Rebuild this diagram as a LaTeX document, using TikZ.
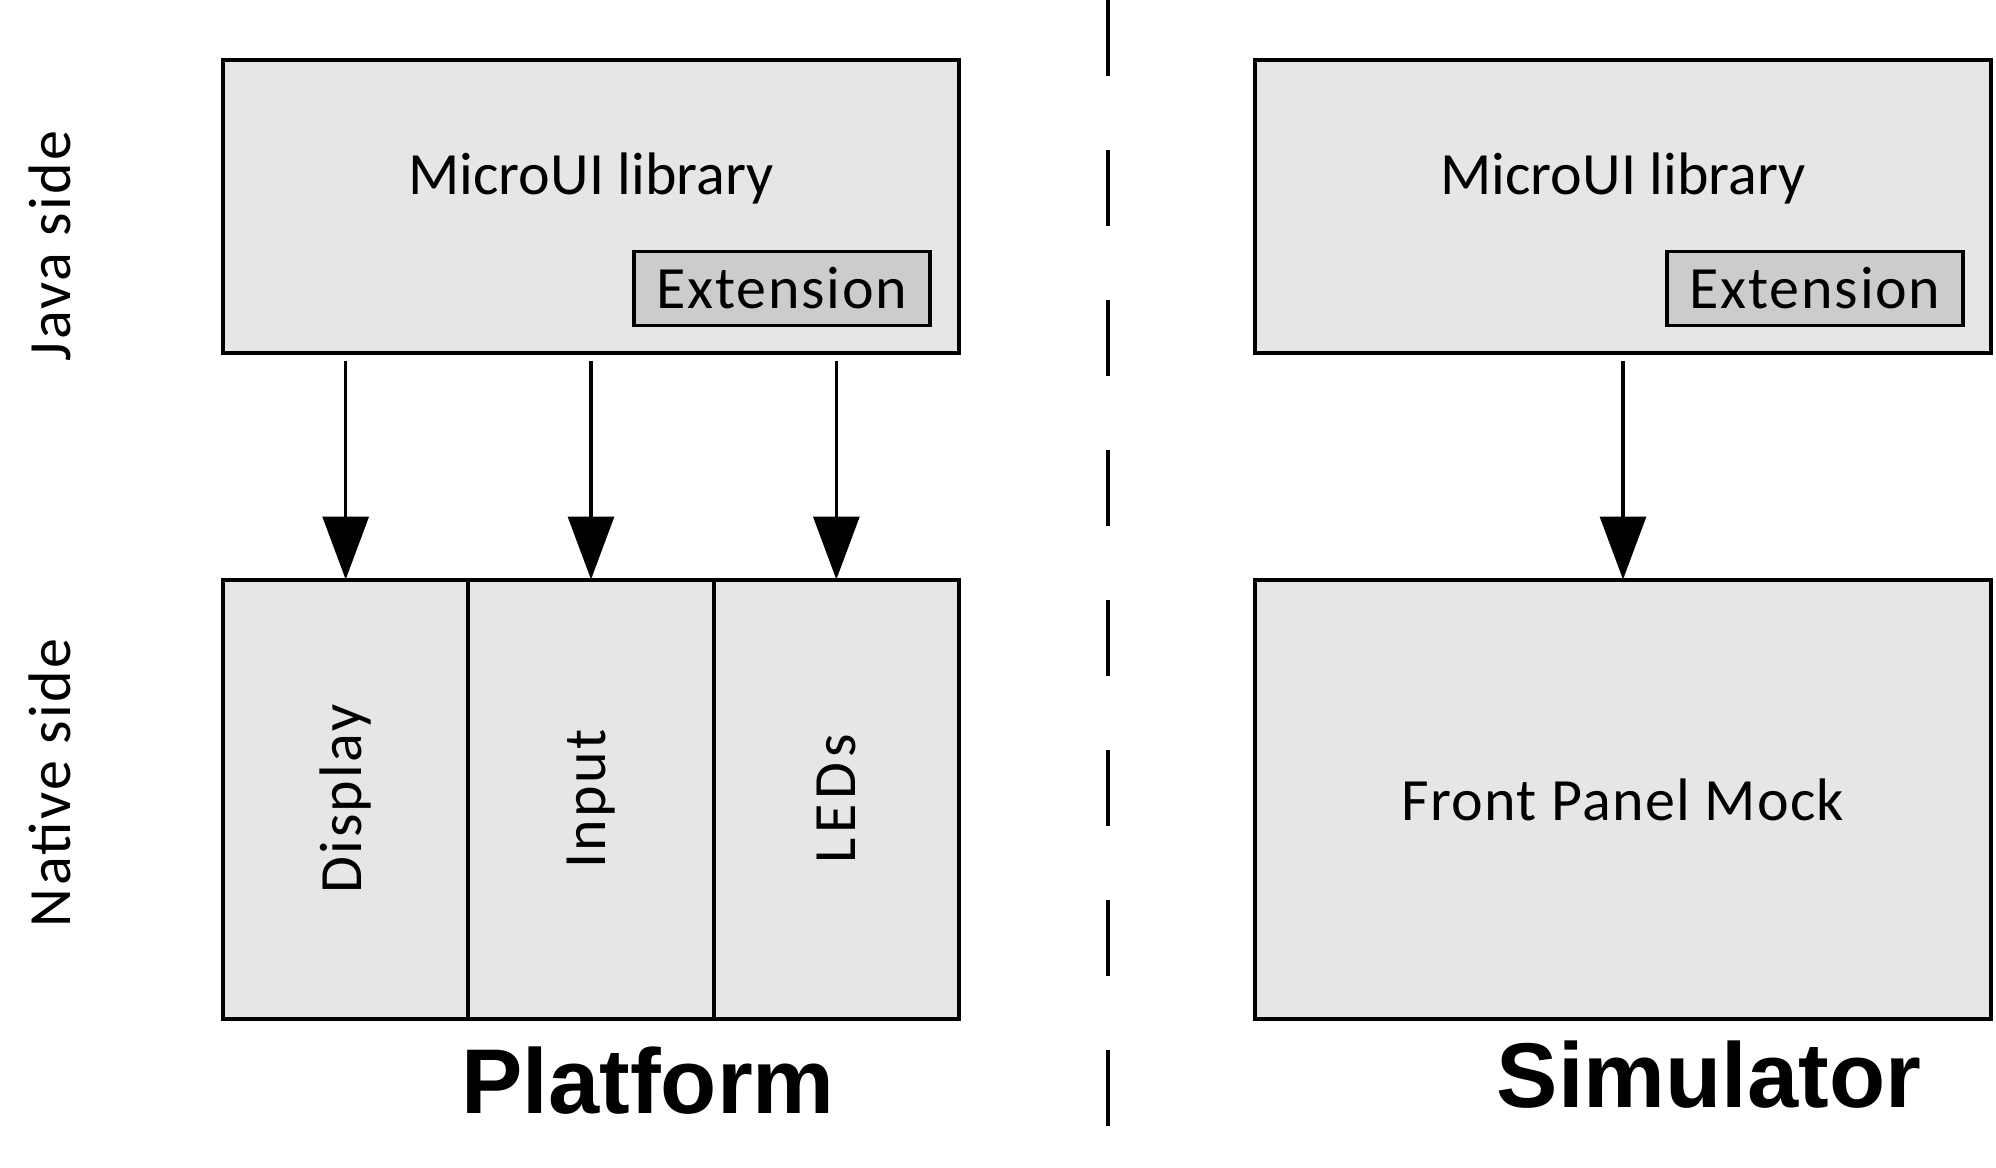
\documentclass[tikz,border=0pt]{standalone}
\usepackage{fontspec}
\setmainfont{Carlito}
\newfontfamily\titlefont{Liberation Sans}
\usetikzlibrary{positioning, arrows.meta}

\definecolor{boxgray}{HTML}{E6E6E6}
\definecolor{extgray}{HTML}{CCCCCC}

\begin{document}
\begin{tikzpicture}[x=0.5pt, y=-0.5pt,
    every node/.append style={inner sep=0pt, outer sep=0pt},
    txt/.style={font=\fontsize{30}{36}\selectfont},
    block/.style={draw, line width=2pt, fill=boxgray,
        minimum width=368pt, minimum height=146.5pt},
    ext/.style={txt, font=\fontsize{30}{36}\selectfont\addfontfeature{LetterSpace=3},
        draw, line width=1.7pt, fill=extgray,
        minimum width=148pt, minimum height=37pt},
    cell/.style={draw, line width=2pt, fill=boxgray,
        minimum width=122.67pt, minimum height=219.5pt},
    vlabel/.style={font=\fontsize{30}{36}\selectfont\addfontfeature{LetterSpace=4},
        rotate=90},
    flow/.style={line width=1.6pt, shorten <=4pt,
        -{Triangle[length=31.5pt, width=23pt]}},
    divider/.style={line width=2pt, dash pattern=on 38pt off 37pt},
    title/.style={font=\titlefont\bfseries\fontsize{46}{52}\selectfont, anchor=base}
    ]
    \useasboundingbox (0,0) rectangle (1996,1167);

    % platform side
    \node [block] (topL) at (591,206) {};
    \node [txt, anchor=base] (microL) at ([yshift=6pt]topL.center) {MicroUI library};
    \node [ext, above left=13.5pt and 14.5pt of topL.south east] (extL) {Extension};

    \node [cell, below right=113.5pt and 0pt of topL.south west] (disp) {};
    \node [cell, right=0pt of disp] (inp) {};
    \node [cell, right=0pt of inp] (leds) {};
    \node [vlabel] at (disp) {Display};
    \node [vlabel] at (inp) {Input};
    \node [vlabel, font=\fontsize{30}{36}\selectfont\addfontfeature{LetterSpace=8}] at (leds) {LEDs};

    \draw [flow] (topL.south -| disp.center) -- (disp.north);
    \draw [flow] (topL.south -| inp.center) -- (inp.north);
    \draw [flow] (topL.south -| leds.center) -- (leds.north);

    % simulator side
    \node [block] (topR) at (1623,206) {};
    \node [txt, anchor=base] (microR) at ([yshift=6pt]topR.center) {MicroUI library};
    \node [ext, above left=13.5pt and 14pt of topR.south east] (extR) {Extension};

    \node [block, minimum height=219.5pt, below=113.5pt of topR] (fpm) {};
    \node [txt, font=\fontsize{30}{36}\selectfont\addfontfeature{LetterSpace=2}, anchor=base]
        (fpmtext) at ([yshift=-10.5pt]fpm.center) {Front Panel Mock};

    \draw [flow] (topR.south) -- (fpm.north);

    % side labels and titles
    \node [vlabel] (java) at (50,246) {Java side};
    \node [vlabel] (native) at (50,783) {Native side};

    \coordinate (sepTop) at (1108,0);
    \coordinate (sepBot) at (1108,1126);
    \draw [divider] (sepTop) -- (sepBot);

    \node [title] (platform) at (648,1113) {Platform};
    \node [title] (simulator) at (1709,1107) {Simulator};
\end{tikzpicture}
\end{document}
